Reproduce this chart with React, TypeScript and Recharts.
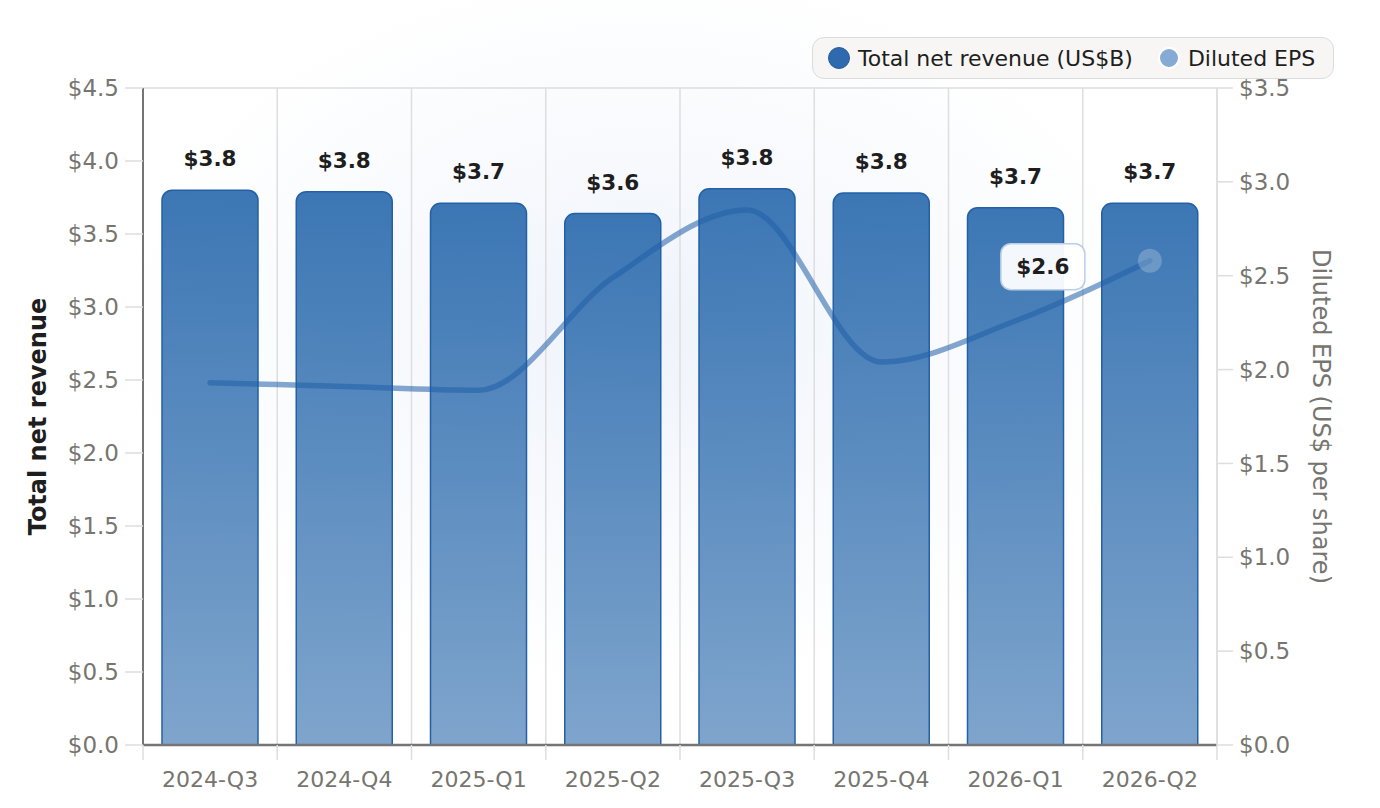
import { ComposedChart, Bar, Line, XAxis, YAxis, CartesianGrid, Legend, LabelList } from 'recharts';

// chart data
const quarters = ['2024-Q3', '2024-Q4', '2025-Q1', '2025-Q2', '2025-Q3', '2025-Q4', '2026-Q1', '2026-Q2'];
const revenue = [3.8, 3.79, 3.71, 3.64, 3.81, 3.78, 3.68, 3.71];
const eps = [1.93, 1.91, 1.89, 2.49, 2.85, 2.04, 2.26, 2.58];
const revenueTicks = [0, 0.5, 1, 1.5, 2, 2.5, 3, 3.5, 4, 4.5];
const epsTicks = [0, 0.5, 1, 1.5, 2, 2.5, 3, 3.5];

const data = quarters.map((q, i) => ({ quarter: q, revenue: revenue[i], eps: eps[i] }));

const FONT = '"DejaVu Sans", sans-serif';
const TICK_GRAY = '#76756f';
const GRID = '#dedede';
const money = (v: number) => `$${v.toFixed(1)}`;

const XTick = (props: any) => {
    const { x, y, payload, index } = props;
    const half = payload.offset || 0;
    const axisY = y - 8;
    return (
        <g>
            <line x1={x - half} x2={x - half} y1={axisY} y2={axisY + 15} stroke={GRID} strokeWidth={1.5} />
            {index === quarters.length - 1 && (
                <line x1={x + half} x2={x + half} y1={axisY} y2={axisY + 15} stroke={GRID} strokeWidth={1.5} />
            )}
            <text x={x} y={y + 26} dy="0.355em" textAnchor="middle" fill={TICK_GRAY} fontSize={22} fontFamily={FONT}>
                {payload.value}
            </text>
        </g>
    );
};

const LegendBox = () => (
    <div
        style={{
            display: 'flex',
            alignItems: 'center',
            height: 40,
            padding: '0 18px 0 15px',
            background: '#f7f6f4',
            border: '1.5px solid #dcdcdc',
            borderRadius: 12,
            fontFamily: FONT,
            fontSize: 22,
            color: '#1e1e1e',
            whiteSpace: 'nowrap',
        }}
    >
        <span style={{ width: 20, height: 20, borderRadius: '50%', background: '#2e6aad', border: '1.5px solid #235ea3', marginRight: 8 }} />
        <span style={{ marginRight: 25 }}>Total net revenue (US$B)</span>
        <span style={{ width: 18, height: 18, borderRadius: '50%', background: '#85aad3', border: '2.5px solid #ffffff', marginRight: 8 }} />
        <span>Diluted EPS</span>
    </div>
);

const EpsLabel = (props: any) => {
    const { x, y, index, value } = props;
    if (index !== eps.length - 1) return null;
    const cx = x - 107;
    const cy = y + 6;
    return (
        <g>
            <circle cx={x} cy={y} r={12} fill="#ffffff" fillOpacity={0.22} />
            <rect x={cx - 42} y={cy - 23} width={84} height={46} rx={10} fill="#ffffff" fillOpacity={0.94} stroke="#b9cfe7" strokeWidth={1.5} />
            <text x={cx} y={cy} dy="0.36em" textAnchor="middle" fontWeight="bold" fontSize={21.5} fill="#1e1e1e" fontFamily={FONT}>
                {money(value)}
            </text>
        </g>
    );
};

export default function App() {
    return (
        <div
            style={{
                position: 'absolute',
                left: 0,
                top: 0,
                width: 1380,
                height: 808,
                background: 'radial-gradient(ellipse 520px 360px at 640px 330px, #eef3fb 0%, #f7f9fd 45%, #ffffff 100%)',
                fontFamily: FONT,
            }}
        >
            <ComposedChart width={1380} height={808} data={data} margin={{ top: 88, right: 0, left: 0, bottom: 0 }}>
                <defs>
                    <linearGradient id="barFill" x1="0" y1="0" x2="0" y2="1">
                        <stop offset="0%" stopColor="#2768ac" />
                        <stop offset="100%" stopColor="#719bc7" />
                    </linearGradient>
                </defs>
                <CartesianGrid
                    stroke={GRID}
                    strokeWidth={1.5}
                    verticalCoordinatesGenerator={({ offset }: any) =>
                        quarters.map((_, i) => offset.left + ((i + 1) * offset.width) / quarters.length)
                    }
                />
                <XAxis
                    dataKey="quarter"
                    height={63}
                    tickLine={false}
                    tickSize={6}
                    tickMargin={2}
                    axisLine={{ stroke: '#747474', strokeWidth: 2.5 }}
                    tick={<XTick />}
                    interval={0}
                />
                <YAxis
                    yAxisId="rev"
                    width={143}
                    domain={[0, 4.5]}
                    ticks={revenueTicks}
                    tickFormatter={money}
                    tick={{ fill: TICK_GRAY, fontSize: 23, fontFamily: FONT }}
                    tickSize={18}
                    tickMargin={6}
                    tickLine={{ stroke: GRID, strokeWidth: 1.5 }}
                    axisLine={{ stroke: '#747474', strokeWidth: 2 }}
                    label={({ viewBox }: any) => {
                        const lx = viewBox.x + 37;
                        const ly = viewBox.y + viewBox.height / 2;
                        return (
                            <text x={lx} y={ly} dy="0.36em" textAnchor="middle" transform={`rotate(-90 ${lx} ${ly})`} fontWeight="bold" fontSize={24} fill="#1e1e1e" fontFamily={FONT}>
                                Total net revenue
                            </text>
                        );
                    }}
                />
                <YAxis
                    yAxisId="eps"
                    orientation="right"
                    width={163}
                    domain={[0, 3.5]}
                    ticks={epsTicks}
                    tickFormatter={money}
                    tick={{ fill: TICK_GRAY, fontSize: 23, fontFamily: FONT }}
                    tickSize={16}
                    tickMargin={6}
                    tickLine={{ stroke: GRID, strokeWidth: 1.5 }}
                    axisLine={{ stroke: GRID, strokeWidth: 1.5 }}
                    label={({ viewBox }: any) => {
                        const lx = viewBox.x + 105;
                        const ly = viewBox.y + viewBox.height / 2;
                        return (
                            <text x={lx} y={ly} dy="0.36em" textAnchor="middle" transform={`rotate(90 ${lx} ${ly})`} fontSize={24} fill={TICK_GRAY} fontFamily={FONT}>
                                Diluted EPS (US$ per share)
                            </text>
                        );
                    }}
                />
                <Legend
                    layout="horizontal"
                    verticalAlign="middle"
                    align="center"
                    content={<LegendBox />}
                    wrapperStyle={{ position: 'absolute', top: 37, left: 812, width: 'auto' }}
                />
                <Bar
                    yAxisId="rev"
                    dataKey="revenue"
                    barSize={96}
                    fill="url(#barFill)"
                    fillOpacity={0.9}
                    stroke="#2360a8"
                    strokeWidth={1.5}
                    radius={[10, 10, 0, 0]}
                    isAnimationActive={false}
                >
                    <LabelList
                        dataKey="revenue"
                        position="top"
                        offset={24}
                        formatter={(v: any) => money(Number(v))}
                        style={{ fontWeight: 'bold', fontSize: 21.5, fill: '#1e1e1e', fontFamily: FONT }}
                    />
                </Bar>
                <Line
                    yAxisId="eps"
                    type="monotone"
                    dataKey="eps"
                    stroke="#1f5fa8"
                    strokeOpacity={0.55}
                    strokeWidth={5.5}
                    strokeLinecap="round"
                    dot={false}
                    activeDot={false}
                    isAnimationActive={false}
                >
                    <LabelList dataKey="eps" content={<EpsLabel />} />
                </Line>
            </ComposedChart>
        </div>
    );
}
